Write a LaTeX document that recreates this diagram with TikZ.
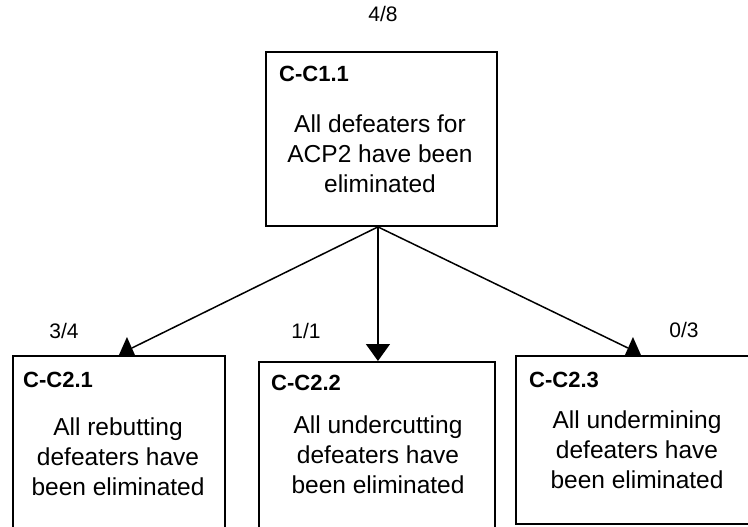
\documentclass[tikz,border=0pt]{standalone}
\usepackage{fontspec}
\setmainfont{Liberation Sans}
\usetikzlibrary{arrows.meta,calc}

\tikzset{
  box/.style={draw, line width=1.9pt, rectangle, inner sep=0pt, anchor=north west},
  tag/.style={font=\fontsize{22}{26}\selectfont\bfseries, inner sep=0pt, anchor=base west},
  % anchored at the baseline of the last line
  body/.style={font=\fontsize{24.5}{30}\selectfont, align=center, inner sep=0pt, anchor=base},
  ratio/.style={font=\fontsize{21}{25}\selectfont, inner sep=0pt, anchor=base},
  conn/.style={line width=1.5pt},
  uphead/.pic={\fill (-8,0) -- (0,-18) -- (8,0) -- cycle;}
}

\begin{document}
\begin{tikzpicture}[x=1pt,y=-1pt]
\useasboundingbox (0,0) rectangle (748,527);
\clip (0,0) rectangle (748,527);

% parent claim
\node[box, minimum width=231pt, minimum height=174pt] (c11) at (265,51) {};
\node[tag] (c11id) at (279,82) {C-C1.1};
\node[body] (c11txt) at (380,192) {All defeaters for\\ACP2 have been\\eliminated};
\node[ratio] (r11) at (383,22) {4/8};

% sub-claims
\node[box, minimum width=212pt, minimum height=205pt] (c21) at (12,355) {};
\node[tag] (c21id) at (23,387) {C-C2.1};
\node[body] (c21txt) at (118,495) {All rebutting\\defeaters have\\been eliminated};
\node[ratio] (r21) at (64,338) {3/4};

\node[box, minimum width=236pt, minimum height=199pt] (c22) at (258,361) {};
\node[tag] (c22id) at (271,390) {C-C2.2};
\node[body] (c22txt) at (378,493) {All undercutting\\defeaters have\\been eliminated};
\node[ratio] (r22) at (306,338) {1/1};

\node[box, minimum width=244pt, minimum height=168pt] (c23) at (515,355) {};
\node[tag] (c23id) at (529,387) {C-C2.3};
\node[body] (c23txt) at (637,488) {All undermining\\defeaters have\\been eliminated};
\node[ratio] (r23) at (684,337) {0/3};

% connectors
\coordinate (hub) at ([xshift=-3.5pt]c11.south);
\coordinate (t21) at ([xshift=8pt]c21.north);
\coordinate (t23) at ([xshift=-5pt]c23.north);

\draw[conn] (hub) -- ($(t21)+(5,-7)$);
\pic at (t21) {uphead};

\draw[conn, -{Triangle[width=24pt,length=17pt]}] (hub) -- (hub |- c22.north);

\draw[conn] (hub) -- ($(t23)+(-5,-7)$);
\pic at (t23) {uphead};
\end{tikzpicture}
\end{document}
